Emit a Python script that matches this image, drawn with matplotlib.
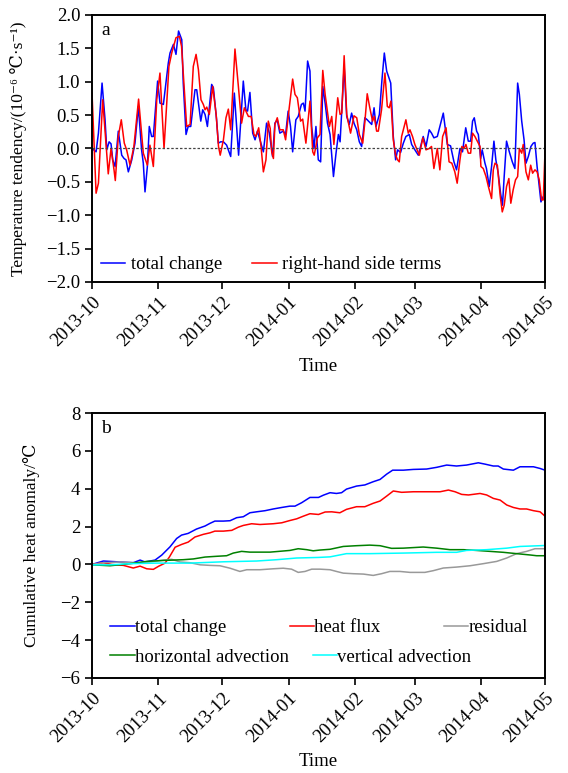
import numpy as np
import pandas as pd
import matplotlib
matplotlib.use('Agg')
import matplotlib.pyplot as plt
import matplotlib.dates as mdates

plt.rcParams['font.family'] = ['Liberation Serif', 'DejaVu Serif']
plt.rcParams['font.size'] = 13.5

start = pd.Timestamp('2013-10-01')
end = pd.Timestamp('2014-05-01')

# ---- panel a: temperature tendency (days since 2013-10-01, 1e-6 C/s) ----
tc_day = [0, 1.9, 3, 4.7, 6.1, 6.9, 8, 8.9, 9.7, 10.8, 12.3, 13.9, 15, 15.9, 17, 18.6, 20.1, 21.7,
          23.2, 24, 24.8, 25.9, 26.8, 27.9, 28.7, 30.7, 31.8, 33.4, 35.7, 36.5, 38.1, 39.3, 40.5,
          42, 42.7, 44, 45, 46.2, 48.2, 49, 50.9, 51.8, 52.9, 54, 56, 56.8, 58.3, 59.1, 60.2, 61.5,
          63, 64.9, 66.6, 68.6, 70.8, 72, 72.8, 73.9, 75.2, 76.3, 77.4, 78.6, 80.2, 81.7, 83,
          84.5, 85.6, 86.7, 87.9, 89.5, 90.6, 91.8, 92.9, 93.9, 95.4, 96.5, 98, 98.9, 99.7, 100.9,
          102, 102.8, 103.9, 104.8, 105.9, 107, 108, 109.1, 110.2, 111.4, 113, 114.2, 115.3, 116.1,
          118, 119.2, 120.4, 121.5, 122.6, 123.9, 125.1, 126.2, 127.7, 128.8, 130.9, 132, 132.9,
          134.5, 135.7, 136.8, 137.9, 139.8, 141, 142.1, 143, 144.4, 145.7, 146.9, 148.5, 149.6,
          151.1, 152.7, 155, 156.3, 157.8, 158.9, 160, 161.6, 162.8, 164.4, 166.3, 167.8, 169.4,
          170.6, 172.2, 173.4, 174.9, 176.1, 177.2, 178.1, 178.9, 180, 180.8, 181.9, 182.6, 183.9,
          184.6, 185.9, 187, 188.1, 189, 190.1, 191.2, 192.1, 192.9, 194, 195.3, 196.7, 197.9,
          199.2, 200, 201.1, 202.2, 203.1, 204.2, 205.4, 206.5, 207.3, 208.3, 209.3, 210.1, 211.2, 212]
tc_val = [0.0, -0.05, 0.23, 0.98, 0.43, -0.02, 0.10, 0.07, -0.17, -0.27, 0.26, -0.10, -0.15, -0.17,
          -0.35, -0.17, 0.08, 0.63, -0.02, -0.22, -0.65, -0.27, 0.33, 0.18, 0.18, 1.01, 0.68, 0.66,
          1.28, 1.43, 1.56, 1.41, 1.76,
          1.63, 0.98, 0.21, 0.33, 0.33, 0.88, 0.88, 0.41, 0.58, 0.51, 0.33, 0.96, 0.91, 0.43, 0.08,
          0.10, 0.10, 0.05, -0.12, 0.83, -0.10, 1.01, 0.58, 0.56, 0.84, 0.23, 0.13, 0.26, 0.13, -0.05,
          0.38, 0.23,
          -0.12, 0.38, 0.43, 0.23, 0.26, 0.21, 0.56, 0.33, -0.05, 0.43, 0.48, 0.66, 0.68, 0.56, 1.31,
          1.16, 0.33, 0.00, 0.33, -0.17, -0.20, 0.93, 0.68, 0.38, 0.21, -0.42, -0.07, 0.21, 0.10,
          1.23, 0.48, 0.36, 0.53, 0.38, 0.28, 0.10, 0.03, 0.46, 0.43, 0.36, 0.61, 0.33,
          0.51, 1.03, 1.43, 1.16, 0.98, 0.18, -0.17, -0.02, -0.06, 0.08, 0.18, 0.21, 0.06,
          -0.02, -0.10, 0.18, 0.03, 0.28, 0.23, 0.16, 0.18, 0.33, 0.53, 0.06, 0.04, -0.20,
          -0.32, 0.00, -0.05, 0.31, 0.11, 0.11, 0.41, 0.46, 0.26, 0.21, -0.15, -0.02, -0.22,
          -0.30, -0.57, -0.27, 0.11, -0.17, -0.37, -0.67, -0.85, -0.42, 0.11, -0.05, -0.20, -0.30,
          0.98, 0.81, 0.41, 0.13, -0.22, -0.12, 0.03, 0.08, 0.09, -0.27, -0.57, -0.80, -0.72, -0.78]

rhs_day = [0, 1.9, 3, 5, 6.4, 7.6, 8.9, 10.3, 10.9, 12.3, 13.7, 15.1, 16.2, 17.8, 19.6, 21.8, 24,
           25.9, 27.1, 28.7, 30.3, 31.8, 33.7, 36, 37.3, 39.3, 40.9, 41.9, 42.7, 44.3, 45.9, 47.4,
           48.7, 49.8, 51, 52.1, 52.9, 53.7, 54.9, 56.5, 58.1, 59.2, 60, 61.5, 62.7, 63.8, 64.9,
           66.9, 68.5, 70, 71.3, 73.2, 74.5, 75.8, 76.7, 78, 79.1, 80.2, 81.4, 82.5, 83.4, 84.1,
           84.9, 85.6, 86.7, 87.9, 89.5, 90.6, 92.3, 93.9, 95, 96.1, 97.6, 98.6, 100.1, 102, 103.3,
           104, 105.5, 106.7, 108, 109.1, 111.1, 112.2, 113.2, 115, 116.1, 116.9, 118, 119.2, 121,
           122.6, 123.9, 125.1, 126.7, 127.7, 128.8, 130, 131.3, 132.1, 133.2, 134, 135.5, 137.1,
           138.2, 139.1, 139.9, 141, 142.1, 143, 143.8, 144.9, 146.9, 148, 148.8, 150, 151.1, 153.2,
           154.8, 156.3, 157.8, 158.9, 160, 161.6, 162.8, 164.1, 165.7, 167.1, 168.4, 169.8, 170.9,
           172.2, 173.1, 174.1, 175, 176.1, 177.2, 178.1, 179.2, 180.3, 181.6, 182, 183.1, 184.4,
           185.5, 187, 187.8, 188.6, 189.7, 191, 192, 192.9, 194, 195.1, 196, 197.1, 198.2, 199.2,
           200, 201.1, 201.8, 203.1, 204.2, 205.3, 206.2, 207.3, 208.3, 209.3, 210.4, 211.2, 212]
rhs_val = [0.83, -0.67, -0.52, 0.73, 0.13, -0.38, 0.00, -0.32, -0.48, 0.18, 0.43, 0.08, -0.02, -0.25,
           0.03, 0.74, -0.07, -0.25, 0.05, -0.27, 0.73, 1.13, 0.00, 1.23, 1.43, 1.66, 1.68, 1.53,
           1.13, 0.33, 0.36, 1.23, 1.41, 1.18, 0.73, 0.66, 0.58, 0.62, 0.51, 0.93, 0.51, 0.03, -0.10,
           0.13, 0.46, 0.59, 0.28, 1.49, 0.93, 0.38, 0.61, 0.48, 0.48, 0.21, 0.18, 0.31, 0.03, -0.35,
           -0.17, 0.41, 0.30, -0.05, -0.15, 0.36, 0.46, 0.28, 0.28, 0.13, 0.61, 1.04, 0.81, 0.76,
           0.41, 0.44, 0.08, 0.71, -0.05, -0.10, 0.16, 0.21, 1.17, 0.81, 0.33, 0.48, 0.06, 0.76, 0.51,
           0.53, 1.39, 0.51, 0.23, 0.49, 0.46, 0.21, 0.08, 0.40, 0.82, 0.61, 0.41, 0.48, 0.26, 0.26,
           0.58, 1.13, 0.63, 0.61, 0.71, 0.13, -0.10, -0.17, -0.20, 0.18, 0.43, 0.23, 0.28, 0.18,
           0.06, -0.10, 0.16, -0.02, 0.00, 0.03, -0.30, 0.00, -0.32, 0.18, 0.31, -0.20, -0.22, -0.35,
           -0.52, -0.17, 0.03, 0.00, 0.06, -0.07, -0.07, 0.23, 0.18, 0.11, 0.03, -0.27, -0.30, -0.42,
           -0.57, -0.75, -0.32, -0.22, -0.25, -0.70, -0.95, -0.85, -0.57, -0.45, -0.82, -0.62, -0.47,
           -0.42, 0.00, -0.07, 0.06, -0.35, -0.47, -0.25, -0.37, -0.32, -0.35, -0.47, -0.77, -0.77,
           -0.05]

# ---- panel b: cumulative heat anomaly (C) ----
cum_tc_day = [0, 5.3, 13.1, 19.3, 22.5, 24.8, 29.5, 32.6, 36.5, 39.6, 41.9, 45, 48.9, 52.9, 55.2,
              57.5, 61.5, 64.6, 67.7, 70.8, 73.9, 77, 81, 84.8, 88.8, 92.6, 95, 98.1, 102, 106,
              108.3, 111.4, 114.4, 116.8, 119.1, 123.8, 127.7, 131.6, 134.8, 137.9, 140.7, 145.7,
              150.4, 156.6, 161.3, 166, 170.6, 175.3, 180.8, 183.9, 187.8, 190.1, 192.5, 197.2,
              200.3, 203.4, 206.6, 209.7, 212]
cum_tc = [0, 0.18, 0.13, 0.09, 0.23, 0.13, 0.23, 0.49, 0.93, 1.37, 1.55, 1.64, 1.87, 2.03, 2.17,
          2.29, 2.29, 2.31, 2.47, 2.52, 2.73, 2.78, 2.84, 2.93, 3.01, 3.08, 3.08, 3.26, 3.54, 3.54,
          3.66, 3.79, 3.75, 3.79, 3.98, 4.14, 4.2, 4.37, 4.49, 4.77, 4.98, 4.98, 5.02, 5.04, 5.13,
          5.25, 5.2, 5.25, 5.37, 5.3, 5.2, 5.2, 5.04, 4.98, 5.16, 5.16, 5.16, 5.07, 4.98]

cum_hf_day = [0, 5.3, 9.2, 14.7, 19.3, 22.5, 25.6, 28.7, 31.1, 34.2, 36.2, 38.9, 42, 45, 48.2,
              52.1, 55.2, 57.5, 61.5, 65.4, 68.5, 70.8, 74.7, 78.6, 84.8, 88.8, 92.6, 95.8, 98.9,
              102, 106, 109.1, 112.2, 116, 119.1, 123.8, 127.7, 131.6, 134.8, 137.9, 141, 144.9,
              150.4, 156.6, 162.9, 166.8, 169.9, 173, 176.2, 181.6, 184.7, 187.8, 191, 194.1,
              197.2, 200.3, 203.4, 206.6, 209.7, 212]
cum_hf = [0, 0.09, 0.0, -0.05, -0.19, -0.09, -0.23, -0.26, -0.1, 0.07, 0.39, 0.91, 1.06, 1.18,
          1.45, 1.59, 1.67, 1.76, 1.76, 1.8, 1.97, 2.06, 2.15, 2.11, 2.15, 2.2, 2.32, 2.41, 2.55,
          2.68, 2.64, 2.77, 2.78, 2.73, 2.91, 3.05, 3.05, 3.23, 3.35, 3.61, 3.88, 3.81, 3.84, 3.84,
          3.84, 3.93, 3.84, 3.7, 3.67, 3.75, 3.67, 3.49, 3.4, 3.14, 3.01, 2.93, 2.93, 2.84, 2.78,
          2.55]

cum_res_day = [0, 5.3, 13.1, 20.8, 27.1, 33.4, 37.3, 41.2, 45.9, 50.6, 55.2, 59.9, 64.6, 69.2,
               72.4, 78.6, 84.8, 89.5, 93.4, 96.5, 99.7, 102.8, 106.7, 111.4, 114.4, 117.6, 122.3,
               127, 131.6, 135.5, 139.4, 144.1, 148.8, 155.8, 159.7, 164.4, 170.6, 176.9, 183.1,
               189.4, 194.1, 198.7, 203.4, 207.3, 212]
cum_res = [0, 0.09, 0.13, 0.09, 0.13, 0.23, 0.27, 0.13, 0.09, -0.02, -0.05, -0.07, -0.2, -0.37,
           -0.28, -0.28, -0.23, -0.2, -0.25, -0.42, -0.37, -0.25, -0.25, -0.28, -0.37, -0.46,
           -0.49, -0.51, -0.58, -0.49, -0.37, -0.37, -0.42, -0.42, -0.33, -0.19, -0.14, -0.07,
           0.04, 0.16, 0.34, 0.57, 0.69, 0.83, 0.83]

cum_ha_day = [0, 8.4, 17.8, 25.6, 33.4, 42.7, 47.4, 52.9, 58.3, 63, 66.1, 70, 73.9, 83.3, 92.6,
              96.5, 100.5, 103.5, 106.7, 111.4, 117.6, 123.8, 130, 134.8, 140.2, 145.7, 155,
              161.3, 167.5, 173.8, 180, 186.3, 192.5, 198.7, 205, 208.1, 212]
cum_ha = [-0.02, -0.07, 0.04, 0.16, 0.21, 0.25, 0.29, 0.39, 0.43, 0.46, 0.6, 0.69, 0.65, 0.65,
          0.74, 0.83, 0.78, 0.72, 0.76, 0.8, 0.95, 0.99, 1.02, 0.99, 0.85, 0.86, 0.92, 0.86, 0.78,
          0.78, 0.74, 0.69, 0.64, 0.57, 0.5, 0.46, 0.46]

cum_va_day = [0, 8.4, 17.8, 30.3, 45.9, 61.5, 77, 86.4, 95.8, 106, 111.4, 119.1, 130, 145.7,
              161.3, 170.6, 175.3, 184.7, 194.1, 200.3, 212]
cum_va = [-0.02, -0.02, 0.04, 0.07, 0.07, 0.14, 0.18, 0.25, 0.34, 0.37, 0.4, 0.57, 0.57, 0.6,
          0.64, 0.64, 0.74, 0.78, 0.86, 0.95, 1.0]


def to_dates(days):
    return start + pd.to_timedelta(np.array(days), unit='D')


fig = plt.figure(figsize=(5.68, 7.73), dpi=100)
ax1 = fig.add_axes([0.162, 0.6352, 0.7975, 0.3454])
ax2 = fig.add_axes([0.162, 0.1229, 0.7975, 0.3428])

# panel a
ax1.plot(to_dates(tc_day), tc_val, color='#0000ff', lw=1.1, label='total change')
ax1.plot(to_dates(rhs_day), rhs_val, color='#ff0000', lw=1.1, label='right-hand side terms')
ax1.axhline(0, color='#444444', lw=0.9, ls=(0, (2, 1.5)))
ax1.set_ylim(-2, 2)
ax1.set_yticks(np.arange(-2, 2.01, 0.5))
ax1.set_yticklabels(['%.1f' % v if v >= 0 else '\u2212%.1f' % -v for v in np.arange(-2, 2.01, 0.5)])
ax1.set_ylabel('Temperature tendency/(10\u207b\u2076 \u2103\u00b7s\u207b\u00b9)', fontsize=12.5)
ax1.yaxis.set_label_coords(-0.143, 0.5)
ax1.set_xlabel('Time')
ax1.xaxis.set_label_coords(0.5, -0.285)
ax1.text(0.02, 0.975, 'a', transform=ax1.transAxes, va='top', ha='left', fontsize=14)
ax1.legend(loc='center left', bbox_to_anchor=(0.02, 0.064), ncol=2, frameon=False,
           borderpad=0, borderaxespad=0, handlelength=1.3, handletextpad=0.3, columnspacing=1.6)

# panel b
l_tc, = ax2.plot(to_dates(cum_tc_day), cum_tc, color='#0000ff', lw=1.1)
l_hf, = ax2.plot(to_dates(cum_hf_day), cum_hf, color='#ff0000', lw=1.1)
l_res, = ax2.plot(to_dates(cum_res_day), cum_res, color='#999999', lw=1.1)
l_ha, = ax2.plot(to_dates(cum_ha_day), cum_ha, color='#008000', lw=1.1)
l_va, = ax2.plot(to_dates(cum_va_day), cum_va, color='#00ffff', lw=1.1)
ax2.set_ylim(-6, 8)
ax2.set_yticks(np.arange(-6, 9, 2))
ax2.set_ylabel('Cumulative heat anomaly/\u2103', fontsize=12.5)
ax2.yaxis.set_label_coords(-0.115, 0.5)
ax2.set_xlabel('Time')
ax2.xaxis.set_label_coords(0.5, -0.283)
ax2.text(0.02, 0.975, 'b', transform=ax2.transAxes, va='top', ha='left', fontsize=14)
leg1 = ax2.legend([l_tc, l_hf, l_res], ['total change', 'heat flux', 'residual'],
                  loc='center left', bbox_to_anchor=(0.04, 0.189), ncol=3, frameon=False,
                  borderpad=0, borderaxespad=0, handlelength=1.3, handletextpad=0.0,
                  columnspacing=3.4)
ax2.add_artist(leg1)
ax2.legend([l_ha, l_va], ['horizontal advection', 'vertical advection'],
           loc='center left', bbox_to_anchor=(0.04, 0.079), ncol=2, frameon=False,
           borderpad=0, borderaxespad=0, handlelength=1.3, handletextpad=0.0,
           columnspacing=1.3)

for ax in (ax1, ax2):
    ax.set_xlim(start, end)
    ax.xaxis.set_major_locator(mdates.MonthLocator())
    ax.xaxis.set_major_formatter(mdates.DateFormatter('%Y-%m'))
    for lab in ax.get_xticklabels():
        lab.set_rotation(45)
        lab.set_ha('right')
        lab.set_rotation_mode('anchor')
    ax.tick_params(direction='out', length=5, width=1.2)
    for s in ax.spines.values():
        s.set_linewidth(1.4)

fig.savefig('out.png', dpi=100)
